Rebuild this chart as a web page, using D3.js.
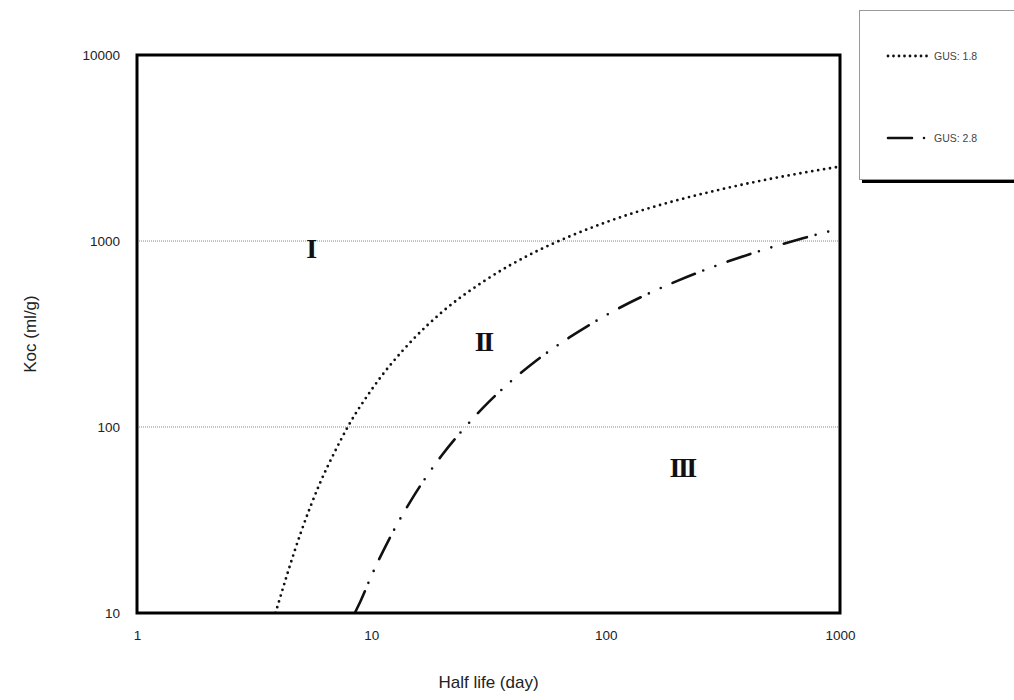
<!DOCTYPE html>
<html>
<head>
  <meta charset="utf-8">
  <title>GUS</title>
  <script src="https://cdn.jsdelivr.net/npm/d3@7"></script>
  <style>
    body { margin: 0; background: #fff; }
    text { font-family: "Liberation Sans", Arial, sans-serif; }
  </style>
</head>
<body>
<div id="chart"></div>
<script>
// values
var halfLife18 = [3.9, 5, 6, 7, 8, 10, 15, 20, 30, 50, 70, 100, 200, 300, 500, 700, 1000];
var koc18 = [10, 27, 49, 74, 102, 158, 294, 414, 604, 873, 1057, 1259, 1651, 1876, 2154, 2330, 2512];
var halfLife28 = [8.5, 9, 10, 12, 15, 20, 25, 30, 50, 70, 100, 200, 300, 500, 700, 1000];
var koc28 = [10, 11.6, 15.8, 25.4, 41.6, 70.5, 99, 127, 225, 303, 398, 607, 741, 918, 1037, 1166];
var seriesNames = ["GUS: 1.8", "GUS: 2.8"];
var xTicks = [1, 10, 100, 1000];
var yTicks = [10, 100, 1000, 10000];
var gridValues = [100, 1000];
var zoneNames = ["I", "II", "III"];
var zoneHalfLife = [5.5, 30, 212];
var zoneKoc = [916, 290, 61];

var width = 1014, height = 700;
var margin = {left: 137, right: 174, top: 55, bottom: 87};

var svg = d3.select("#chart").append("svg")
    .attr("width", width)
    .attr("height", height);

var x = d3.scaleLog().domain([1, 1000]).range([margin.left, width - margin.right]);
var y = d3.scaleLog().domain([10, 10000]).range([height - margin.bottom, margin.top]);

// grid lines
svg.selectAll(".grid")
  .data(gridValues)
  .enter().append("line")
  .attr("x1", x(1)).attr("x2", x(1000))
  .attr("y1", function(d) { return y(d); })
  .attr("y2", function(d) { return y(d); })
  .attr("stroke", "#888")
  .attr("stroke-width", 1)
  .attr("stroke-dasharray", "1,1");

// axes, labels only
var xAxis = svg.append("g")
  .attr("transform", "translate(0," + y(10) + ")")
  .call(d3.axisBottom(x).tickValues(xTicks).tickFormat(d3.format("d")).tickSize(0).tickPadding(17));
var yAxis = svg.append("g")
  .attr("transform", "translate(" + x(1) + ",0)")
  .call(d3.axisLeft(y).tickValues(yTicks).tickFormat(d3.format("d")).tickSize(0).tickPadding(17));
[xAxis, yAxis].forEach(function(a) {
  a.select(".domain").remove();
  a.selectAll("text").attr("font-size", 13.5).attr("fill", "#222")
    .style("font-family", "'Liberation Sans', Arial, sans-serif");
});

svg.append("defs").append("clipPath").attr("id", "plot")
  .append("rect")
  .attr("x", x(1)).attr("y", y(10000))
  .attr("width", x(1000) - x(1)).attr("height", y(10) - y(10000));

var line = d3.line()
  .x(function(d) { return x(d[0]); })
  .y(function(d) { return y(d[1]); })
  .curve(d3.curveMonotoneX);

var series = [
  {pts: d3.zip(halfLife18, koc18), dash: "0,6", width: 2.8},
  {pts: d3.zip(halfLife28, koc28), dash: "24,9,0,13,0,13", width: 2.6}
];

svg.append("g").attr("clip-path", "url(#plot)")
  .selectAll("path")
  .data(series)
  .enter().append("path")
  .attr("d", function(d) { return line(d.pts); })
  .attr("fill", "none")
  .attr("stroke", "#111")
  .attr("stroke-width", function(d) { return d.width; })
  .attr("stroke-linecap", "round")
  .attr("stroke-dasharray", function(d) { return d.dash; });

// plot frame
svg.append("rect")
  .attr("x", x(1)).attr("y", y(10000))
  .attr("width", x(1000) - x(1)).attr("height", y(10) - y(10000))
  .attr("fill", "none")
  .attr("stroke", "#000")
  .attr("stroke-width", 3);

// zone numerals
svg.selectAll(".zone")
  .data(zoneNames)
  .enter().append("text")
  .attr("x", function(d, i) { return x(zoneHalfLife[i]); })
  .attr("y", function(d, i) { return y(zoneKoc[i]); })
  .attr("dy", "0.35em")
  .attr("text-anchor", "middle")
  .attr("font-size", 28)
  .attr("font-weight", "bold")
  .attr("letter-spacing", -2.5)
  .style("font-family", "'Liberation Serif', 'DejaVu Serif', serif")
  .attr("fill", "#111")
  .text(function(d) { return d; });

// axis titles
svg.append("text")
  .attr("x", (x(1) + x(1000)) / 2)
  .attr("y", 688)
  .attr("text-anchor", "middle")
  .attr("font-size", 17)
  .attr("fill", "#222")
  .text("Half life (day)");
svg.append("text")
  .attr("transform", "translate(36," + (y(10) + y(10000)) / 2 + ") rotate(-90)")
  .attr("text-anchor", "middle")
  .attr("font-size", 17)
  .attr("fill", "#222")
  .text("Koc (ml/g)");

// legend
var lg = svg.append("g");
lg.append("rect").attr("x", 862).attr("y", 179).attr("width", 160).attr("height", 4).attr("fill", "#000");
lg.append("rect").attr("x", 859.5).attr("y", 10.5).attr("width", 170).attr("height", 169)
  .attr("fill", "#fff").attr("stroke", "#999").attr("stroke-width", 1);
var legendY = [56, 138];
lg.selectAll(".item")
  .data(seriesNames)
  .enter().append("g")
  .each(function(d, i) {
    var g = d3.select(this);
    g.append("line")
      .attr("x1", 888).attr("x2", 927)
      .attr("y1", legendY[i]).attr("y2", legendY[i])
      .attr("stroke", "#111")
      .attr("stroke-width", series[i].width)
      .attr("stroke-linecap", "round")
      .attr("stroke-dasharray", i === 0 ? "0,5.5" : "24,12,0,20");
    g.append("text")
      .attr("x", 934).attr("y", legendY[i])
      .attr("dy", "0.35em")
      .attr("font-size", 10.5)
      .attr("fill", "#444")
      .text(d);
  });
</script>
</body>
</html>
